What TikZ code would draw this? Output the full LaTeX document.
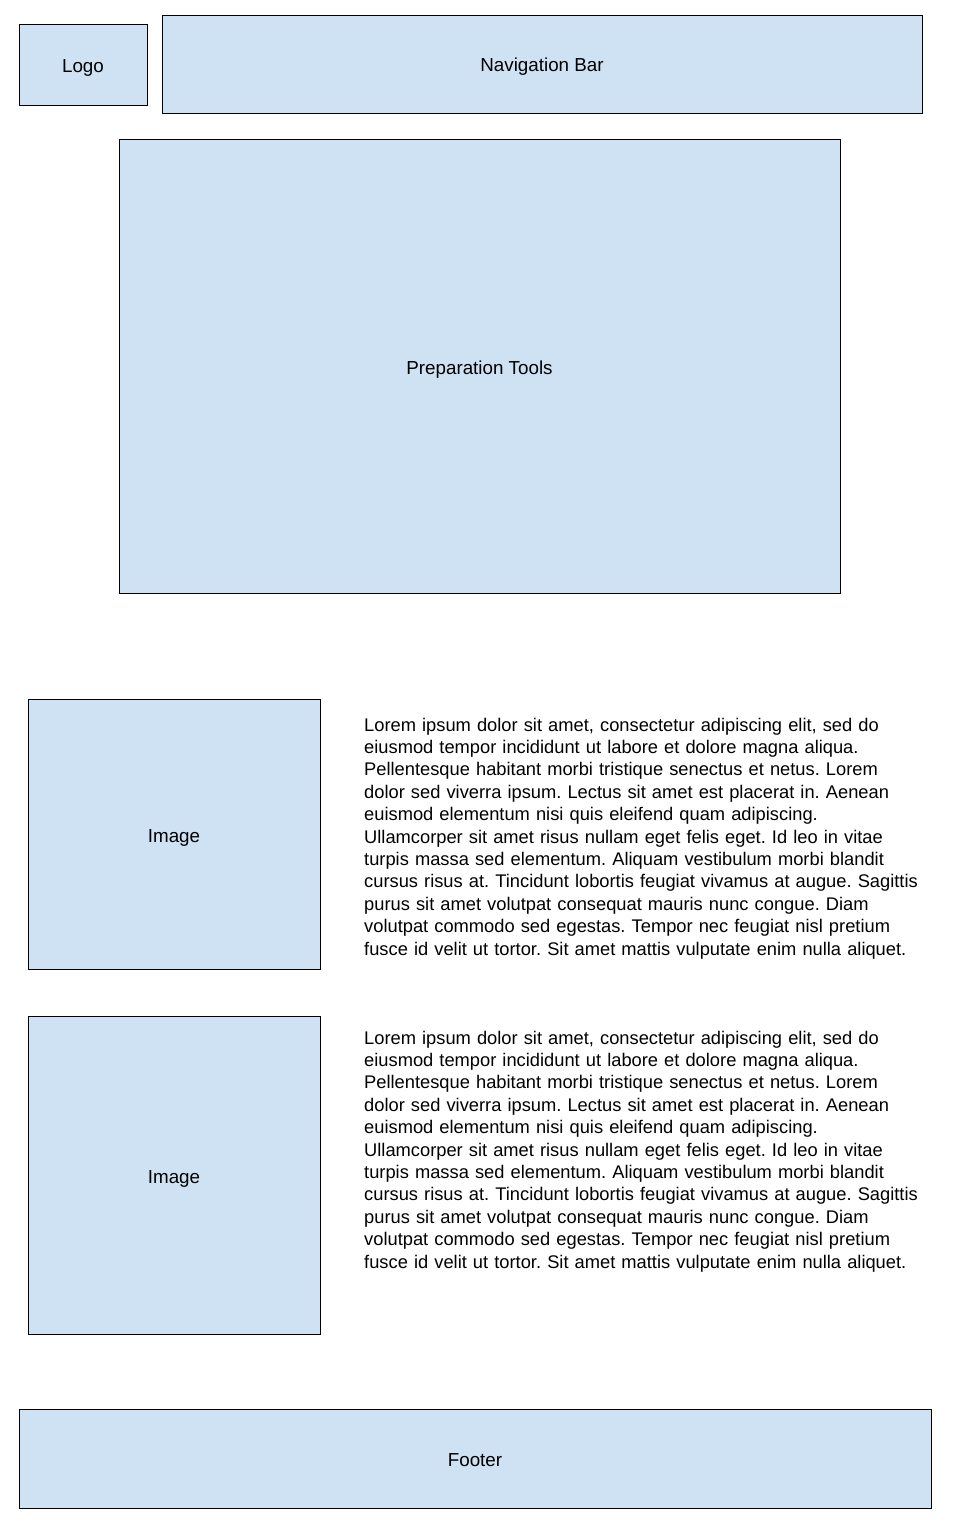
\documentclass[tikz,border=0pt]{standalone}
\usepackage{fontspec}
\setmainfont{Liberation Sans}
\definecolor{boxblue}{HTML}{CFE2F3}
\begin{document}
\frenchspacing
\begin{tikzpicture}[x=1pt,y=-1pt,
  box/.style={draw=black, line width=0.9pt, fill=boxblue, inner sep=0pt, outer sep=0pt,
    text height=18pt, text depth=2pt, font=\fontsize{18.8}{22.4}\selectfont},
  para/.style={anchor=north west, inner sep=0pt, text width=590pt, align=left,
    font=\fontsize{18.3}{22.4}\selectfont\frenchspacing}]
\useasboundingbox (0,0) rectangle (960,1536);
\node[box, minimum width=128pt, minimum height=81pt] (logo) at (83,64.5) {Logo};
\node[box, minimum width=760pt, minimum height=98pt] (nav) at (542,64) {Navigation Bar};
\node[box, minimum width=721pt, minimum height=454pt] (prep) at (479.5,366) {Preparation Tools};
\node[box, minimum width=292pt, minimum height=270pt] (img1) at (174,834) {Image};
\node[box, minimum width=292pt, minimum height=318pt] (img2) at (174,1175) {Image};
\node[box, minimum width=912pt, minimum height=99pt] (footer) at (475,1458.5) {Footer};
\node[para] (txt1) at (364,715.3) {\strut Lorem ipsum dolor sit amet, consectetur adipiscing elit, sed do\\
eiusmod tempor incididunt ut labore et dolore magna aliqua.\\
Pellentesque habitant morbi tristique senectus et netus. Lorem\\
dolor sed viverra ipsum. Lectus sit amet est placerat in. Aenean\\
euismod elementum nisi quis eleifend quam adipiscing.\\
Ullamcorper sit amet risus nullam eget felis eget. Id leo in vitae\\
turpis massa sed elementum. Aliquam vestibulum morbi blandit\\
cursus risus at. Tincidunt lobortis feugiat vivamus at augue. Sagittis\\
purus sit amet volutpat consequat mauris nunc congue. Diam\\
volutpat commodo sed egestas. Tempor nec feugiat nisl pretium\\
fusce id velit ut tortor. Sit amet mattis vulputate enim nulla aliquet.};
\node[para] (txt2) at (364,1028.3) {\strut Lorem ipsum dolor sit amet, consectetur adipiscing elit, sed do\\
eiusmod tempor incididunt ut labore et dolore magna aliqua.\\
Pellentesque habitant morbi tristique senectus et netus. Lorem\\
dolor sed viverra ipsum. Lectus sit amet est placerat in. Aenean\\
euismod elementum nisi quis eleifend quam adipiscing.\\
Ullamcorper sit amet risus nullam eget felis eget. Id leo in vitae\\
turpis massa sed elementum. Aliquam vestibulum morbi blandit\\
cursus risus at. Tincidunt lobortis feugiat vivamus at augue. Sagittis\\
purus sit amet volutpat consequat mauris nunc congue. Diam\\
volutpat commodo sed egestas. Tempor nec feugiat nisl pretium\\
fusce id velit ut tortor. Sit amet mattis vulputate enim nulla aliquet.};
\end{tikzpicture}
\end{document}
